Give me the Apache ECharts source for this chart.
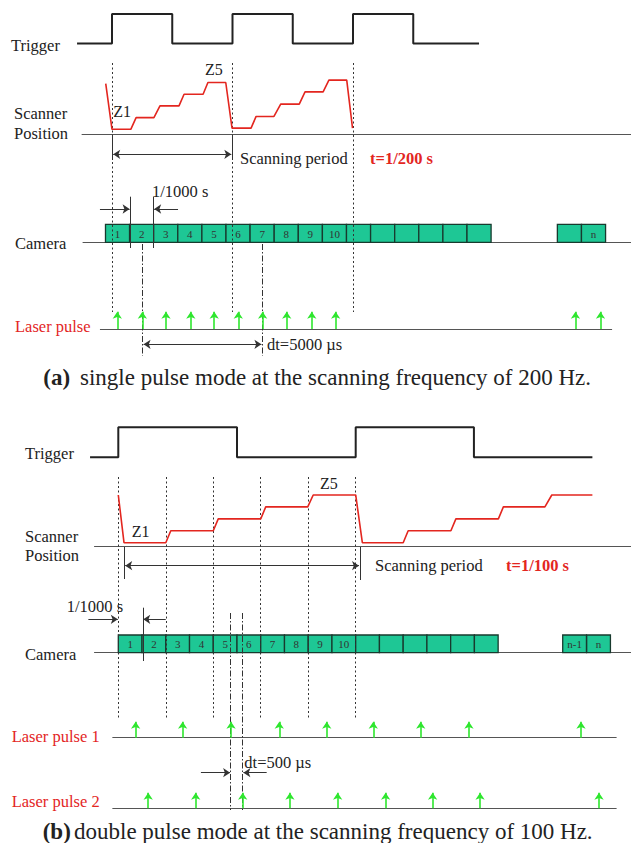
<!DOCTYPE html>
<html><head><meta charset="utf-8">
<script src="https://cdn.jsdelivr.net/npm/echarts@6/dist/echarts.min.js"></script>
<style>html,body{margin:0;padding:0;background:#fff}#c{width:631px;height:843px}</style>
</head><body><div id="c"></div>
<script>
// ================= DATA (times in ms, scanner level = plane index Z1..Z5) =================
// Panel (a): single pulse mode, 200 Hz scanning
const triggerEdgesA = [-1.45, 0, 2.5, 5, 7.5, 10, 12.5, 15.23];
const scannerA = [[-0.26,4.9],[0,1],[0.78,1],[1.0,2],[1.74,2],[1.99,3],[2.78,3],[2.99,4],[3.78,4],[3.98,5],[4.72,5],
                  [4.98,1.1],[5.77,1.1],[5.98,2.1],[6.72,2.1],[7.0,3.15],[7.77,3.15],[8.01,4.2],[8.76,4.2],[9.0,5.2],[9.74,5.2],[9.98,1.1]];
const frameStartsA = [-0.27,0.73,1.73,2.73,3.73,4.73,5.73,6.73,7.73,8.73,9.73,10.73,11.73,12.73,13.73,14.73,18.48,19.48];
const frameLabelsA = ['1','2','3','4','5','6','7','8','9','10','','','','','','','','n'];
const laserA = [0.22,1.26,2.24,3.27,4.24,5.24,6.25,7.25,8.29,9.28,19.23,20.27];
const syncLinesA = [0, 5, 10];          // dotted trigger/scan markers
const dtLinesA = [1.26, 6.25];          // dash-dot, dt = 5000 us
// Panel (b): double pulse mode, 100 Hz scanning
const triggerEdgesB = [-1.19, 0, 5, 10, 14.98, 19.97];
const scannerB = [[0,5],[0.24,1],[2.0,1],[2.21,2],[4.0,2],[4.21,3],[6.0,3],[6.21,4],[7.98,4],[8.21,5],[10.0,5],
                  [10.28,1],[12.0,1],[12.21,2],[14.01,2],[14.22,3],[16.01,3],[16.22,4],[17.97,4],[18.26,5],[19.97,5]];
const frameStartsB = [0,1,2,3,4,5,6,7,8,9,10,11,12,13,14,15,18.72,19.73];
const frameLabelsB = ['1','2','3','4','5','6','7','8','9','10','','','','','','','n-1','n'];
const laser1B = [0.73,2.71,4.75,6.78,8.78,10.74,12.74,14.77,19.49];
const laser2B = [1.26,3.26,5.24,7.23,9.24,11.26,13.24,15.24,20.25];
const syncLinesB = [0, 2, 4, 6, 8, 10];
const dtLinesB = [4.735, 5.24];         // dash-dot, dt = 500 us
const frameDuration = 1;                // 1/1000 s

// ================= LAYOUT (page rows, px) =================
const LA = {trigLow:43.5, trigHigh:14, z1:129.3, zStep:11.7, scanBase:134.7, camTop:224.3, camBot:242.3,
            laserBase:329, laserTip:311.7};
const LB = {trigLow:457.3, trigHigh:427.3, z1:542.7, zStep:11.93, scanBase:546.7, camTop:635, camBot:652.7,
            laser1Base:737.7, laser1Tip:721.7, laser2Base:808.3, laser2Tip:792.7};

const SERIF = '"Liberation Serif","Times New Roman",serif';
const RED = '#e3261f', GREEN = '#2ee62e', INK = '#222', GRAY = '#555';

function triggerPts(edges, low, high){
  const pts = [[edges[0], low]]; let s = low;
  for (let i = 1; i < edges.length - 1; i++){ pts.push([edges[i], s]); s = (s === low) ? high : low; pts.push([edges[i], s]); }
  pts.push([edges[edges.length-1], s]); return pts;
}
const seg = (x1,y1,x2,y2) => ({coords:[[x1,y1],[x2,y2]]});

function linesSeries(idx, data, style, symbol, z){
  return {type:'lines', coordinateSystem:'cartesian2d', xAxisIndex:idx, yAxisIndex:idx, polyline:false,
          data:data, symbol: symbol || ['none','none'], symbolSize:7, z: z||3, silent:true, animation:false,
          lineStyle: Object.assign({opacity:1, curveness:0}, style)};
}
function lineSeries(idx, pts, color, width){
  return {type:'line', xAxisIndex:idx, yAxisIndex:idx, data:pts, showSymbol:false, symbol:'none', clip:false,
          lineStyle:{color:color, width:width}, animation:false, silent:true, z:4};
}
function cameraSeries(idx, starts, labels, L){
  return {type:'custom', xAxisIndex:idx, yAxisIndex:idx, z:2, silent:true, animation:false,
    data: starts.map(s => [s, s + frameDuration]),
    renderItem: function(params, api){
      const p0 = api.coord([api.value(0), L.camTop]);
      const p1 = api.coord([api.value(1), L.camBot]);
      return {type:'group', children:[
        {type:'rect', shape:{x:p0[0], y:p0[1], width:p1[0]-p0[0], height:p1[1]-p0[1]},
         style:{fill:'#1ec795', stroke:'#183a2e', lineWidth:1.3}},
        {type:'text', style:{text:labels[params.dataIndex], x:(p0[0]+p1[0])/2, y:(p0[1]+p1[1])/2+0.5,
         align:'center', verticalAlign:'middle', font:'11px '+SERIF, fill:'#333'}}
      ]};
    }};
}
function laserArrows(times, base, tip){ return times.map(t => seg(t, base, t, tip)); }

const series = [
  // ---------- panel (a) ----------
  cameraSeries(0, frameStartsA, frameLabelsA, LA),
  lineSeries(0, triggerPts(triggerEdgesA, LA.trigLow, LA.trigHigh), INK, 2),
  lineSeries(0, scannerA.map(p => [p[0], LA.z1 - (p[1]-1)*LA.zStep]), RED, 1.6),
  linesSeries(0, [seg(-1.26,LA.scanBase,21.6,LA.scanBase), seg(-1.22,LA.camBot,21.6,LA.camBot),
                  seg(-0.5,LA.laserBase,20.75,LA.laserBase)], {color:GRAY, width:1.2}, null, 1),
  linesSeries(0, syncLinesA.map(t => seg(t,63,t,312)), {color:'#333', width:1, type:[2,2.5]}),
  linesSeries(0, dtLinesA.map(t => seg(t,244,t,356)), {color:'#333', width:1, type:[6,2,1.5,2]}),
  linesSeries(0, [seg(0,LA.scanBase,0,160), seg(5,LA.scanBase,5,160), seg(0.75,196.7,0.75,248), seg(1.73,196.7,1.73,248)],
              {color:'#333', width:1}),
  linesSeries(0, [seg(0.05,154.3,4.95,154.3), seg(1.31,344.3,6.2,344.3)], {color:'#333', width:1}, ['arrow','arrow']),
  linesSeries(0, [seg(-0.5,209,0.73,209), seg(2.74,209,1.75,209)], {color:'#333', width:1}, ['none','arrow']),
  linesSeries(0, laserArrows(laserA, LA.laserBase, LA.laserTip), {color:GREEN, width:1.6}, ['none','arrow'], 5),
  // ---------- panel (b) ----------
  cameraSeries(1, frameStartsB, frameLabelsB, LB),
  lineSeries(1, triggerPts(triggerEdgesB, LB.trigLow, LB.trigHigh), INK, 2),
  lineSeries(1, scannerB.map(p => [p[0], LB.z1 - (p[1]-1)*LB.zStep]), RED, 1.6),
  linesSeries(1, [seg(-1.02,LB.scanBase,21.7,LB.scanBase), seg(-1.02,LB.camBot,21.7,LB.camBot),
                  seg(-0.25,LB.laser1Base,20.99,LB.laser1Base), seg(-0.25,LB.laser2Base,20.99,LB.laser2Base)],
              {color:GRAY, width:1.2}, null, 1),
  linesSeries(1, syncLinesB.map(t => seg(t,477,t,720)), {color:'#333', width:1, type:[2,2.5]}),
  linesSeries(1, dtLinesB.map(t => seg(t,613,t,810)), {color:'#333', width:1, type:[6,2,1.5,2]}),
  linesSeries(1, [seg(0.24,547,0.24,579), seg(10.19,547,10.19,580), seg(1.03,607.7,1.03,661)], {color:'#333', width:1}),
  linesSeries(1, [seg(0.29,565.7,10.14,565.7)], {color:'#333', width:1}, ['arrow','arrow']),
  linesSeries(1, [seg(-1.26,619.3,-0.02,619.3), seg(2.0,619.3,1.05,619.3), seg(3.48,772.7,4.71,772.7), seg(6.25,772.7,5.27,772.7)],
              {color:'#333', width:1}, ['none','arrow']),
  linesSeries(1, laserArrows(laser1B, LB.laser1Base, LB.laser1Tip), {color:GREEN, width:1.6}, ['none','arrow'], 5),
  linesSeries(1, laserArrows(laser2B, LB.laser2Base, LB.laser2Tip), {color:GREEN, width:1.6}, ['none','arrow'], 5)
];

function txt(text, x, y, size, color, weight){
  return {type:'text', x:x, y:y, silent:true, z:10,
          style:{text:text, font:(weight||'normal')+' '+size+'px '+SERIF, fill:color||INK, verticalAlign:'middle', align:'left'}};
}
const texts = [
  txt('Trigger', 11, 45, 16.5), txt('Scanner', 14, 113, 16.5), txt('Position', 14, 133.5, 16.5),
  txt('Z1', 113.3, 111.7, 16), txt('Z5', 205, 69, 16),
  txt('Scanning period', 240, 158, 16.5), txt('t=1/200 s', 370, 158, 16.5, RED, 'bold'),
  txt('1/1000 s', 152, 191, 16.5), txt('Camera', 15, 243.5, 16.5),
  txt('Laser pulse', 15, 326.7, 16.5, RED), txt('dt=5000 µs', 267, 344.5, 16.5),
  txt('(a)', 43.3, 377.7, 23, INK, 'bold'), txt('single pulse mode at the scanning frequency of 200 Hz.', 80, 377.7, 23),
  txt('Trigger', 25, 453, 16.5), txt('Scanner', 25, 536, 16.5), txt('Position', 25, 555.5, 16.5),
  txt('Z1', 131.7, 531, 16), txt('Z5', 320, 483.3, 16),
  txt('Scanning period', 375, 565.7, 16.5), txt('t=1/100 s', 506, 565.7, 16.5, RED, 'bold'),
  txt('1/1000 s', 66.7, 606.7, 16.5), txt('Camera', 25, 654.3, 16.5),
  txt('Laser pulse 1', 11.7, 736.7, 16.5, RED), txt('Laser pulse 2', 11.7, 801.7, 16.5, RED),
  txt('dt=500 µs', 244.3, 762.3, 16.5),
  txt('(b)', 42.7, 831.7, 23, INK, 'bold'), txt('double pulse mode at the scanning frequency of 100 Hz.', 74, 831.7, 23)
];

// x scales: panel (a) t=0 at 112px, 24.1 px/ms ; panel (b) t=0 at 118.3px, 23.74 px/ms
const W = 631, H = 843;
const option = {
  backgroundColor:'#fff', animation:false,
  grid:[{left:0, right:0, top:0, bottom:0}, {left:0, right:0, top:0, bottom:0}],
  xAxis:[{type:'value', gridIndex:0, min:-112/24.1, max:(W-112)/24.1, show:false},
         {type:'value', gridIndex:1, min:-118.3/23.74, max:(W-118.3)/23.74, show:false}],
  yAxis:[{type:'value', gridIndex:0, min:0, max:H, inverse:true, show:false},
         {type:'value', gridIndex:1, min:0, max:H, inverse:true, show:false}],
  series: series,
  graphic: texts
};
const chart = echarts.init(document.getElementById('c'), null, {renderer:'svg'});
chart.setOption(option);
</script></body></html>
